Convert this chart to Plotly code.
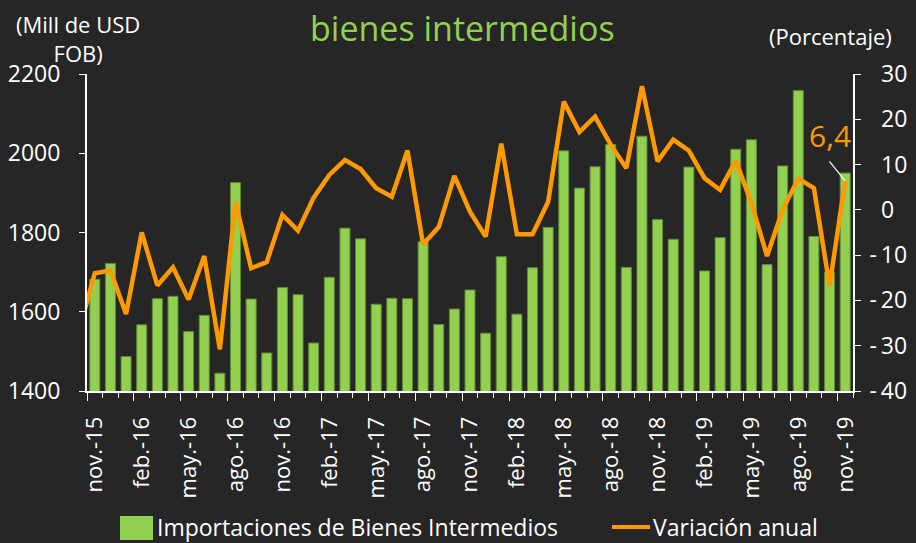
import plotly.graph_objects as go

# Monthly imports of intermediate goods (millions of USD FOB), nov-2015 .. nov-2019
months = ["nov.-15", "dic.-15",
          "ene.-16", "feb.-16", "mar.-16", "abr.-16", "may.-16", "jun.-16",
          "jul.-16", "ago.-16", "sep.-16", "oct.-16", "nov.-16", "dic.-16",
          "ene.-17", "feb.-17", "mar.-17", "abr.-17", "may.-17", "jun.-17",
          "jul.-17", "ago.-17", "sep.-17", "oct.-17", "nov.-17", "dic.-17",
          "ene.-18", "feb.-18", "mar.-18", "abr.-18", "may.-18", "jun.-18",
          "jul.-18", "ago.-18", "sep.-18", "oct.-18", "nov.-18", "dic.-18",
          "ene.-19", "feb.-19", "mar.-19", "abr.-19", "may.-19", "jun.-19",
          "jul.-19", "ago.-19", "sep.-19", "oct.-19", "nov.-19"]

imports = [1682, 1722, 1487, 1567, 1633, 1639, 1550, 1591, 1445, 1926,
           1632, 1496, 1661, 1643, 1521, 1687, 1811, 1784, 1619, 1634,
           1633, 1777, 1568, 1607, 1655, 1546, 1739, 1594, 1711, 1813,
           2006, 1912, 1966, 2022, 1712, 2043, 1833, 1783, 1965, 1703,
           1787, 2010, 2034, 1719, 1968, 2158, 1790, 1700, 1950]

# Annual variation (%), same months; the series also has the month before (oct.-15)
variation_prev = -26.6
variation = [-14.0, -13.4, -23.0, -5.0, -16.7, -12.7, -19.8, -10.2, -30.8, 1.8,
             -12.9, -11.5, -1.1, -4.6, 2.7, 7.7, 11.0, 9.0, 4.8, 2.9,
             13.1, -7.6, -3.8, 7.5, -0.4, -5.9, 14.6, -5.4, -5.4, 1.8,
             23.9, 17.2, 20.6, 14.4, 9.2, 27.3, 10.7, 15.5, 13.1, 7.0,
             4.4, 10.9, 1.5, -10.2, 0.0, 6.9, 4.8, -16.8, 6.4]

left_ticks = [1400, 1600, 1800, 2000, 2200]
right_ticks = [-40, -30, -20, -10, 0, 10, 20, 30]

BG = "#262626"
GREEN = "#92D050"
ORANGE = "#FF9900"
WHITE = "#FFFFFF"
FONT = "Open Sans"

n = len(months)
xs = list(range(n))

# plot-area geometry in pixels (used to place titles / legend in paper units)
W, H = 916, 543
L, R, T, B = 87, 63, 74, 152
pw, ph = W - L - R, H - T - B


def px(x):
    return (x - L) / pw


def py(y):
    return (H - B - y) / ph


fig = go.Figure()

fig.add_trace(go.Bar(
    x=xs, y=imports, name="Importaciones de Bienes Intermedios",
    marker=dict(color=GREEN, line=dict(color="#5f8a35", width=1)),
    width=0.64, yaxis="y", showlegend=False,
))

fig.add_trace(go.Scatter(
    x=[-1] + xs, y=[variation_prev] + variation, name="Variación anual",
    mode="lines", line=dict(color=ORANGE, width=4.5),
    yaxis="y2", showlegend=False, cliponaxis=True,
))

label_vals = [i - 0.5 for i in xs[::3]]
label_text = months[::3]

# right-axis labels: digits line up, the minus sign hangs to the left
right_text = [("\u2002" + str(v)) if v >= 0 else ("-\u2009" + str(-v))
              for v in right_ticks]

fig.update_layout(
    width=W, height=H,
    margin=dict(l=L, r=R, t=T, b=B, pad=0, autoexpand=False),
    paper_bgcolor=BG, plot_bgcolor=BG,
    font=dict(family=FONT, color=WHITE, size=23),
    bargap=0.36,
    xaxis=dict(
        range=[-0.5, n - 0.5], showgrid=False, zeroline=False,
        showline=True, linecolor=WHITE, linewidth=2, automargin=False,
        tickmode="array", tickvals=label_vals, ticktext=label_text,
        tickangle=-90, ticks="outside", ticklen=8, tickwidth=1,
        tickcolor=WHITE, ticklabelshift=8, ticklabelstandoff=7,
        tickfont=dict(family=FONT, size=22, color=WHITE),
        minor=dict(tickmode="array", tickvals=[i - 0.5 for i in range(n + 1)],
                   ticks="outside", ticklen=5, tickwidth=1, tickcolor=WHITE),
    ),
    yaxis=dict(
        range=[1400, 2200], tickmode="array", tickvals=left_ticks,
        showgrid=False, zeroline=False, showline=True, linecolor=WHITE,
        linewidth=2, ticks="outside", ticklen=6, tickcolor=WHITE,
        ticklabelstandoff=14, automargin=False,
        tickfont=dict(family=FONT, size=23, color=WHITE),
    ),
    yaxis2=dict(
        range=[-40, 30], tickmode="array", tickvals=right_ticks,
        ticktext=right_text, overlaying="y", side="right",
        showgrid=False, zeroline=False, showline=True, linecolor=WHITE,
        linewidth=2, ticks="outside", ticklen=6, tickcolor=WHITE,
        ticklabelstandoff=4, automargin=False,
        tickfont=dict(family=FONT, size=23, color=WHITE),
    ),
)


def text_at(text, x, y, size=23, color=WHITE, xanchor="center"):
    fig.add_annotation(text=text, xref="paper", yref="paper",
                       x=px(x), y=py(y), xanchor=xanchor, yanchor="middle",
                       showarrow=False, align="center",
                       font=dict(family=FONT, size=size, color=color))


# titles
text_at("bienes intermedios", 462, 28, size=34, color=GREEN)
text_at("(Mill de USD<br>FOB)", 78, 38, size=22)
text_at("(Porcentaje)", 830, 36, size=22)

# value label on the last month with a leader line
last = n - 1
fig.add_annotation(x=last, y=variation[last], xref="x", yref="y2",
                   text="", showarrow=True, arrowhead=0, arrowwidth=1.2,
                   arrowcolor=WHITE, ax=-17, ay=-21, standoff=0)
fig.add_annotation(x=last, y=variation[last], xref="x", yref="y2",
                   text=f"{variation[last]:.1f}".replace(".", ","),
                   showarrow=False, xshift=-15, yshift=45,
                   font=dict(family=FONT, size=30, color=ORANGE))

# legend drawn below the plot
fig.add_shape(type="rect", xref="paper", yref="paper",
              x0=px(120), x1=px(153), y0=py(540), y1=py(516),
              fillcolor=GREEN, line=dict(width=0))
text_at("Importaciones de Bienes Intermedios", 155, 527, xanchor="left")
fig.add_shape(type="line", xref="paper", yref="paper",
              x0=px(612), x1=px(650), y0=py(527), y1=py(527),
              line=dict(color=ORANGE, width=4))
text_at("Variación anual", 651, 527, xanchor="left")

fig.write_html("out.html")
